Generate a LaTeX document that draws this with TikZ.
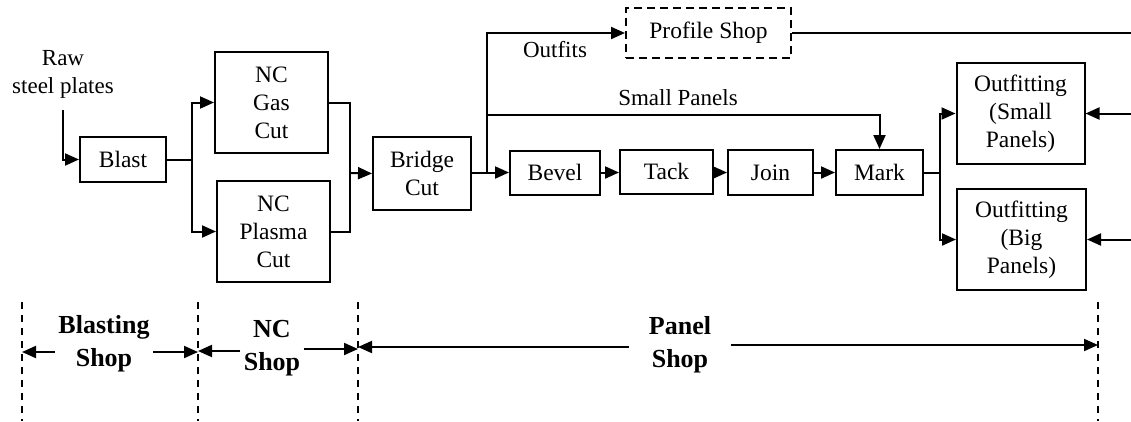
\documentclass[tikz,border=0pt]{standalone}
\usepackage{fontspec}
\setmainfont{Liberation Serif}
\usepackage{tikz}
\usetikzlibrary{arrows.meta,positioning,calc}
\definecolor{lineblack}{RGB}{0,0,0}

\begin{document}
\begin{tikzpicture}[x=1pt,y=-1pt,
  shopbox/.style={draw=lineblack, line width=2pt, align=center, inner sep=0pt,
    font=\fontsize{23.5}{28}\selectfont},
  flow/.style={line width=2pt, -{Triangle[length=14pt,width=12pt]}},
  wire/.style={line width=2pt},
  plain/.style={align=center, font=\fontsize{23}{28}\selectfont},
  zone/.style={align=center, font=\fontsize{26}{33}\selectfont\bfseries},
  border/.style={line width=1.4pt, dash pattern=on 7pt off 6pt}]
\useasboundingbox (0,0) rectangle (1131,421);
% Shop boxes
\node[plain] (raw) at (63,74) {Raw\\steel plates};
\node[shopbox, minimum width=86pt, minimum height=45pt] (blast) at (123,159.5) {Blast};
\node[shopbox, minimum width=113pt, minimum height=101pt] (gas) at (271.5,102.5) {NC\\Gas\\Cut};
\node[shopbox, minimum width=113pt, minimum height=101pt] (plasma) at (273.5,231.5) {NC\\Plasma\\Cut};
\node[shopbox, minimum width=98pt, minimum height=73pt] (bridge) at (422,173.5) {Bridge\\Cut};
\node[shopbox, minimum width=90pt, minimum height=44pt] (bevel) at (555,172.5) {Bevel};
\node[shopbox, minimum width=93pt, minimum height=44pt] (tack) at (666.5,171.5) {Tack};
\node[shopbox, minimum width=85pt, minimum height=45pt] (join) at (770.5,172.5) {Join};
\node[shopbox, minimum width=87pt, minimum height=45pt] (mark) at (879.5,172.5) {Mark};
\node[shopbox, dash pattern=on 8pt off 5pt, minimum width=165pt, minimum height=50pt] (profile) at (708.5,33) {Profile Shop};
\node[shopbox, minimum width=128pt, minimum height=101pt] (outsmall) at (1020.5,113.5) {Outfitting\\(Small\\Panels)};
\node[shopbox, minimum width=129pt, minimum height=101pt] (outbig) at (1021.5,239.5) {Outfitting\\(Big\\Panels)};
\node[plain] (outfits) at (555,50) {Outfits};
\node[plain] (small) at (678,98) {Small Panels};

% Junctions and loose ends
\coordinate (m1) at (350,173);
\coordinate (b1) at (487,172.5);
\coordinate (k1) at (940,172.5);
\coordinate (pe) at (1131,33);
\coordinate (rs) at (1131,113.5);
\coordinate (rb) at (1131,239.5);

% Flow lines
\draw[flow, shorten <=8pt] (raw.south) |- (blast.west);
\draw[flow] (blast.east) -- ++(25,0) |- (gas.west);
\draw[flow] (blast.east) -- ++(25,0) |- (plasma.west);
\draw[wire] (gas.east) -| (m1);
\draw[wire] (plasma.east) -| (m1);
\draw[flow] (m1) -- (bridge.west);
\draw[wire] (bridge.east |- b1) -- (b1);
\draw[flow] (b1) -- (bevel.west);
\draw[flow] (b1) |- (profile.west);
\draw[flow] ($(b1)+(0,-57.5)$) -| (mark.north);
\draw[flow] (bevel.east) -- (tack.west |- bevel.east);
\draw[flow] (tack.east |- join.west) -- (join.west);
\draw[flow] (join.east) -- (mark.west);
\draw[wire] (mark.east) -- (k1);
\draw[flow] (k1) |- (outsmall.west);
\draw[flow] (k1) |- (outbig.west);
\draw[wire] (profile.east) -- (pe);
\draw[flow] (rs) -- (outsmall.east);
\draw[flow] (rb) -- (outbig.east);

% Shop borders
\foreach \x in {22,198,358,1098}
  \draw[border] (\x,302) -- (\x,421);
\node[zone] (blasting) at (104,344) {Blasting\\Shop};
\node[zone] (ncshop) at (272,348) {NC\\Shop};
\node[zone, inner xsep=20pt] (panel) at (680,345) {Panel\\Shop};
\draw[flow] (blasting.west |- 0,352) -- (22,352);
\draw[flow] (blasting.east |- 0,352) -- (198,352);
\draw[flow] (ncshop.west |- 0,351) -- (198,351);
\draw[flow] (ncshop.east |- 0,349) -- (358,349);
\draw[flow] (panel.west |- 0,347) -- (358,347);
\draw[flow] (panel.east |- 0,345) -- (1098,345);
\end{tikzpicture}
\end{document}
